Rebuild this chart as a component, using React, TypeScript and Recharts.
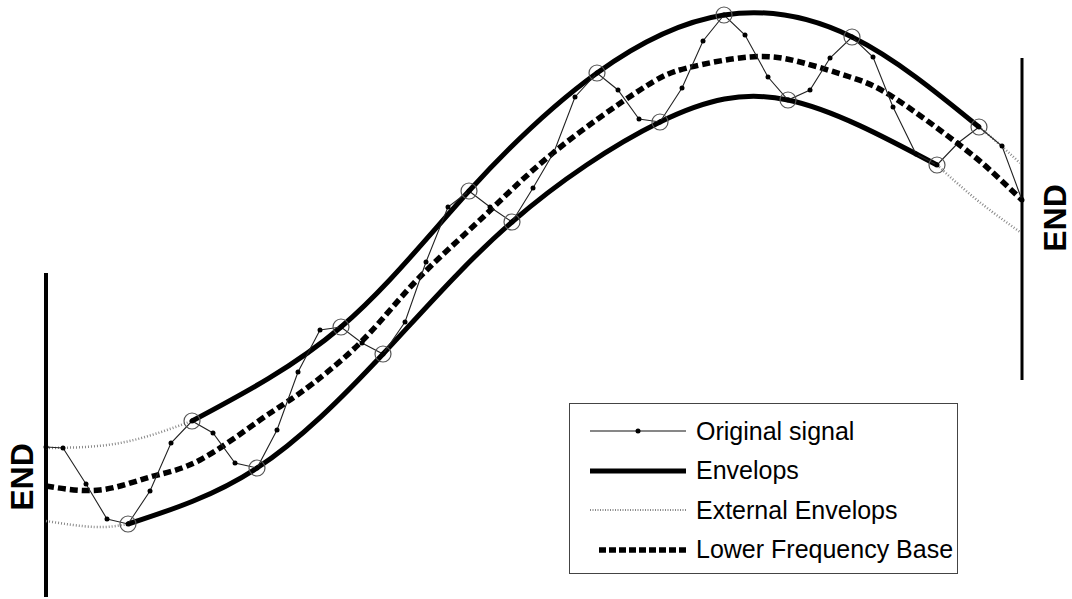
import React from "react";
import { ComposedChart, Line, XAxis, YAxis, ReferenceLine } from "recharts";

// t = time position, a = amplitude (both in chart units)
const signal = [
  { t: 46, a: 152 }, { t: 63, a: 151 }, { t: 86, a: 115 }, { t: 107, a: 80 },
  { t: 128, a: 75 }, { t: 150, a: 108 }, { t: 171, a: 156 }, { t: 192, a: 178 },
  { t: 213, a: 166 }, { t: 235, a: 136 }, { t: 257, a: 131 }, { t: 277, a: 169 },
  { t: 298, a: 227 }, { t: 320, a: 269 }, { t: 341, a: 272 }, { t: 362, a: 256 },
  { t: 383, a: 245 }, { t: 405, a: 277 }, { t: 426, a: 337 }, { t: 448, a: 392 },
  { t: 469, a: 408 }, { t: 490, a: 392 }, { t: 512, a: 377 }, { t: 533, a: 411 },
  { t: 554, a: 447 }, { t: 575, a: 502 }, { t: 597, a: 526 }, { t: 618, a: 509 },
  { t: 639, a: 480 }, { t: 660, a: 477 }, { t: 682, a: 511 }, { t: 703, a: 558 },
  { t: 724, a: 584 }, { t: 745, a: 564 }, { t: 768, a: 522 }, { t: 788, a: 499 },
  { t: 810, a: 509 }, { t: 830, a: 541 }, { t: 852, a: 562 }, { t: 873, a: 542 },
  { t: 893, a: 492 }, { t: 916, a: 445 }, { t: 937, a: 434 }, { t: 958, a: 456 },
  { t: 979, a: 472 }, { t: 1002, a: 453 }, { t: 1022, a: 399 },
];

// local extrema (circled) -> envelopes
const maxima = [
  { t: 192, a: 178 }, { t: 341, a: 272 }, { t: 469, a: 408 }, { t: 597, a: 526 },
  { t: 724, a: 584 }, { t: 852, a: 562 }, { t: 979, a: 472 },
];
const minima = [
  { t: 128, a: 75 }, { t: 257, a: 131 }, { t: 383, a: 245 }, { t: 512, a: 377 },
  { t: 660, a: 477 }, { t: 788, a: 499 }, { t: 937, a: 434 },
];

// envelope extensions towards the END borders
const extUpperLeft = [{ t: 46, a: 151 }, { t: 120, a: 156 }, { t: 192, a: 178 }];
const extLowerLeft = [{ t: 46, a: 78 }, { t: 95, a: 72 }, { t: 128, a: 75 }];
const extUpperRight = [{ t: 979, a: 472 }, { t: 998, a: 456 }, { t: 1020, a: 436 }];
const extLowerRight = [{ t: 937, a: 434 }, { t: 977, a: 399 }, { t: 1020, a: 367 }];

const base = [
  { t: 46, a: 113 }, { t: 100, a: 109 }, { t: 150, a: 122 }, { t: 200, a: 139 },
  { t: 260, a: 179 }, { t: 300, a: 206 }, { t: 360, a: 256 }, { t: 415, a: 317 },
  { t: 480, a: 379 }, { t: 553, a: 446 }, { t: 640, a: 509 }, { t: 687, a: 531 },
  { t: 750, a: 542 }, { t: 800, a: 537 }, { t: 850, a: 522 }, { t: 893, a: 502 },
  { t: 957, a: 456 }, { t: 990, a: 429 }, { t: 1022, a: 399 },
];

// END borders
const leftEnd = { t: 46, from: 2, to: 326 };
const rightEnd = { t: 1022, from: 219, to: 541 };

const legendItems = ["Original signal", "Envelops", "External Envelops", "Lower Frequency Base"];

const font = "'Liberation Sans', Arial, sans-serif";

function LegendSample({ index }: { index: number }) {
  if (index === 0) {
    return (
      <svg width={100} height={12}>
        <line x1={2} y1={6} x2={98} y2={6} stroke="#111" strokeWidth={1.2} />
        <circle cx={50} cy={6} r={2.5} fill="#000" />
      </svg>
    );
  }
  if (index === 1) {
    return (
      <svg width={100} height={12}>
        <line x1={2} y1={6} x2={98} y2={6} stroke="#000" strokeWidth={5} />
      </svg>
    );
  }
  if (index === 2) {
    return (
      <svg width={100} height={12}>
        <line x1={2} y1={6} x2={98} y2={6} stroke="#888" strokeWidth={2} strokeDasharray="1 1.5" />
      </svg>
    );
  }
  return (
    <svg width={100} height={12}>
      <line x1={11} y1={6} x2={98} y2={6} stroke="#000" strokeWidth={5.5} strokeDasharray="7 3" />
    </svg>
  );
}

export default function App() {
  return (
    <div style={{ position: "absolute", left: 0, top: 0, width: 1072, height: 599, background: "#fff", fontFamily: font }}>
      <ComposedChart width={1072} height={599} margin={{ top: 0, right: 0, bottom: 0, left: 0 }}>
        <XAxis dataKey="t" type="number" domain={[0, 1072]} hide allowDataOverflow />
        <YAxis dataKey="a" type="number" domain={[0, 599]} hide allowDataOverflow />

        <ReferenceLine
          segment={[{ x: leftEnd.t, y: leftEnd.from }, { x: leftEnd.t, y: leftEnd.to }]}
          stroke="#000" strokeWidth={4}
        />
        <ReferenceLine
          segment={[{ x: rightEnd.t, y: rightEnd.from }, { x: rightEnd.t, y: rightEnd.to }]}
          stroke="#000" strokeWidth={3}
        />

        {[extUpperLeft, extLowerLeft, extUpperRight, extLowerRight].map((d, i) => (
          <Line key={"ext" + i} data={d} dataKey="a" type="natural" stroke="#888" strokeWidth={2.5}
            strokeDasharray="1 2" dot={false} activeDot={false} isAnimationActive={false} />
        ))}

        <Line data={base} dataKey="a" type="natural" stroke="#000" strokeWidth={5.5}
          strokeDasharray="8 4" dot={false} activeDot={false} isAnimationActive={false} />

        <Line data={maxima} dataKey="a" type="natural" stroke="#000" strokeWidth={5}
          dot={false} activeDot={false} isAnimationActive={false} />
        <Line data={minima} dataKey="a" type="natural" stroke="#000" strokeWidth={5}
          dot={false} activeDot={false} isAnimationActive={false} />

        <Line data={signal} dataKey="a" type="linear" stroke="#222" strokeWidth={1.1}
          dot={{ r: 2.5, fill: "#000", stroke: "none" }} activeDot={false} isAnimationActive={false} />

        <Line data={maxima} dataKey="a" stroke="none"
          dot={{ r: 8, fill: "none", stroke: "#555", strokeWidth: 1.2 }} activeDot={false} isAnimationActive={false} />
        <Line data={minima} dataKey="a" stroke="none"
          dot={{ r: 8, fill: "none", stroke: "#555", strokeWidth: 1.2 }} activeDot={false} isAnimationActive={false} />
      </ComposedChart>

      {/* END labels */}
      <div style={{ position: "absolute", left: 22, top: 477, transform: "translate(-50%,-50%) rotate(-90deg)", fontWeight: "bold", fontSize: 32, lineHeight: "32px", whiteSpace: "nowrap" }}>END</div>
      <div style={{ position: "absolute", left: 1055, top: 218, transform: "translate(-50%,-50%) rotate(-90deg)", fontWeight: "bold", fontSize: 32, lineHeight: "32px", whiteSpace: "nowrap" }}>END</div>

      {/* legend */}
      <div style={{ position: "absolute", left: 569, top: 403, width: 387, height: 169, border: "1.5px solid #444", boxSizing: "content-box" }}>
        {legendItems.map((name, i) => (
          <div key={name} style={{ position: "absolute", left: 18, top: 12 + i * 39.5, height: 30, display: "flex", alignItems: "center" }}>
            <LegendSample index={i} />
            <span style={{ marginLeft: 8, fontSize: 25, color: "#000", whiteSpace: "nowrap" }}>{name}</span>
          </div>
        ))}
      </div>
    </div>
  );
}
